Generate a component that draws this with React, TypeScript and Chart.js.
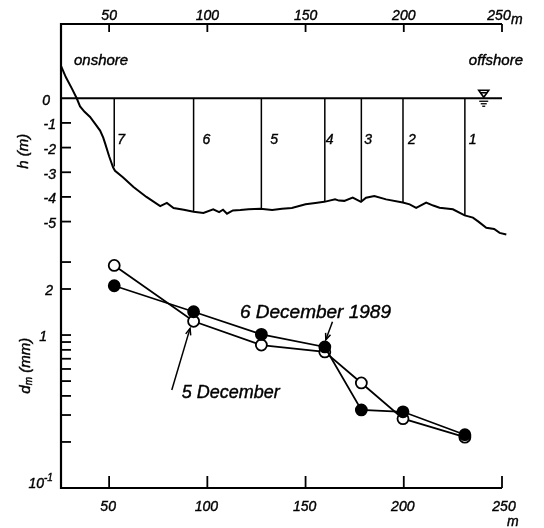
import React, { useEffect, useRef } from "react";
import { Chart, registerables } from "chart.js";

Chart.register(...registerables);

// ---------- axis ranges & ticks ----------
const X_MIN = 25.5;
const X_MAX = 250;
const H_MIN = -15.8;
const H_MAX = 3.01;
const D_MIN = 0.1;
const D_MAX = 108;

const X_TICKS = [50, 100, 150, 200, 250];
const X_TICK_LABELS = ["50", "100", "150", "200", "250"];
const H_TICKS = [0, -1, -2, -3, -4, -5];
const H_TICK_LABELS = ["0", "-1", "-2", "-3", "-4", "-5"];
const D_TICKS = [3, 2, 1, 0.9, 0.8, 0.7, 0.6, 0.5, 0.4, 0.3, 0.2];
const D_LABEL_VALUES = [2, 1];
const D_LABELS = ["2", "1"];

// ---------- stations ----------
const STATION_IDS = ["7", "6", "5", "4", "3", "2", "1"];
const STATION_X = [52.6, 93.0, 127.5, 159.8, 178.4, 199.6, 231.1];
const STATION_BED = [-2.77, -4.6, -4.48, -4.2, -4.2, -4.23, -4.75];

// ---------- mean grain size d_m (mm) ----------
const DM_DEC5 = [2.85, 1.23, 0.86, 0.776, 0.486, 0.284, 0.215];
const DM_DEC6 = [2.1, 1.42, 1.01, 0.836, 0.324, 0.315, 0.223];

// ---------- bottom profile h (m) ----------
const PROFILE_X = [
  25.5, 28, 31, 33.5, 35.2, 37.5, 40.3, 43, 45.4, 47, 48, 50, 52, 53, 57, 62.4,
  69, 76, 79.4, 82.8, 88, 93, 98, 103, 106, 108, 110, 113, 116.8, 121, 127,
  133, 138, 143, 150, 155, 159.5, 165, 167, 169.7, 174, 178.2, 180.8, 185,
  191, 199.5, 203, 206.3, 211.4, 215, 218.2, 225, 231, 235.2, 238, 242, 246,
  248.8, 252.2, 255, 258,
];
const PROFILE_H = [
  1.31, 0.85, 0.4, 0.0, -0.33, -0.55, -0.76, -1.05, -1.31, -1.6, -1.84, -2.35,
  -2.8, -2.94, -3.2, -3.6, -4.0, -4.37, -4.24, -4.45, -4.52, -4.6, -4.65, -4.5,
  -4.62, -4.52, -4.68, -4.55, -4.53, -4.5, -4.48, -4.53, -4.48, -4.45, -4.3,
  -4.25, -4.2, -4.1, -4.15, -4.16, -4.03, -4.2, -4.03, -3.96, -4.1, -4.23,
  -4.3, -4.44, -4.23, -4.35, -4.44, -4.5, -4.75, -4.84, -5.0, -5.25, -5.3,
  -5.46, -5.52, -5.55, -5.69,
];

const FF = "'Liberation Sans', Arial, sans-serif";

function line(ctx: CanvasRenderingContext2D, x1: number, y1: number, x2: number, y2: number) {
  ctx.beginPath();
  ctx.moveTo(x1, y1);
  ctx.lineTo(x2, y2);
  ctx.stroke();
}

function text(ctx: CanvasRenderingContext2D, s: string, x: number, y: number) {
  ctx.fillText(s, x, y);
  const lw = ctx.lineWidth;
  ctx.lineWidth = 0.4;
  ctx.strokeText(s, x, y);
  ctx.lineWidth = lw;
}

function arrow(ctx: CanvasRenderingContext2D, x1: number, y1: number, x2: number, y2: number) {
  line(ctx, x1, y1, x2, y2);
  const a = Math.atan2(y2 - y1, x2 - x1);
  const L = 7;
  const s = 0.38;
  ctx.beginPath();
  ctx.moveTo(x2 - L * Math.cos(a - s), y2 - L * Math.sin(a - s));
  ctx.lineTo(x2, y2);
  ctx.lineTo(x2 - L * Math.cos(a + s), y2 - L * Math.sin(a + s));
  ctx.stroke();
}

const paperAxes = {
  id: "paperAxes",
  afterDraw(chart: any) {
    const ctx: CanvasRenderingContext2D = chart.ctx;
    const { left, right, top, bottom } = chart.chartArea;
    const xs = chart.scales.x;
    const yh = chart.scales.yh;
    const yd = chart.scales.yd;
    ctx.save();
    ctx.strokeStyle = "#000";
    ctx.fillStyle = "#000";
    ctx.lineCap = "butt";

    // frame: top, left, bottom
    ctx.lineWidth = 2.2;
    ctx.beginPath();
    ctx.moveTo(right, top);
    ctx.lineTo(left, top);
    ctx.lineTo(left, bottom);
    ctx.lineTo(right, bottom);
    ctx.stroke();

    // ticks (inward)
    ctx.lineWidth = 1.8;
    X_TICKS.forEach((v) => {
      const px = xs.getPixelForValue(v);
      line(ctx, px, top, px, top + 8);
      line(ctx, px, bottom, px, bottom - 12);
    });
    H_TICKS.forEach((v) => {
      if (v === 0) return;
      const py = yh.getPixelForValue(v);
      line(ctx, left, py, left + 10, py);
    });
    D_TICKS.forEach((v) => {
      const py = yd.getPixelForValue(v);
      line(ctx, left, py, left + 10, py);
    });

    // x labels
    ctx.font = `italic 14px ${FF}`;
    ctx.textAlign = "center";
    ctx.textBaseline = "middle";
    X_TICKS.forEach((v, i) => {
      const px = xs.getPixelForValue(v);
      const last = i === X_TICKS.length - 1;
      text(ctx, X_TICK_LABELS[i], px + (last ? -3 : 0), top - 7.5);
      text(ctx, X_TICK_LABELS[i], px + (last ? 2 : -1), bottom + 19.5);
    });
    ctx.textAlign = "left";
    text(ctx, "m", right + 9, top - 4);
    text(ctx, "m", right + 5, bottom + 34);

    // h labels
    ctx.textAlign = "right";
    H_TICKS.forEach((v, i) => {
      const py = yh.getPixelForValue(v);
      text(ctx, H_TICK_LABELS[i], v === 0 ? left - 11 : left - 5, py + 2.5);
    });
    // d labels
    D_LABEL_VALUES.forEach((v, i) => {
      const py = yd.getPixelForValue(v);
      text(ctx, D_LABELS[i], v === 1 ? left - 14 : left - 8, py + 2);
    });
    const p01 = yd.getPixelForValue(0.1);
    text(ctx, "10", left - 17, p01 - 4);
    ctx.font = `italic 10px ${FF}`;
    ctx.textAlign = "left";
    text(ctx, "-1", left - 17, p01 - 10);

    // axis titles
    ctx.font = `italic 15px ${FF}`;
    ctx.save();
    ctx.translate(24, yh.getPixelForValue(-2.15));
    ctx.rotate(-Math.PI / 2);
    ctx.textAlign = "center";
    text(ctx, "h (m)", 0, 0);
    ctx.restore();

    ctx.save();
    ctx.translate(26, yd.getPixelForValue(0.63));
    ctx.rotate(-Math.PI / 2);
    ctx.textAlign = "left";
    ctx.font = `italic 15px ${FF}`;
    const wd = ctx.measureText("d").width;
    ctx.font = `italic 10px ${FF}`;
    const wm = ctx.measureText("m").width;
    ctx.font = `italic 15px ${FF}`;
    const wr = ctx.measureText(" (mm)").width;
    let sx = -(wd + wm + wr) / 2;
    text(ctx, "d", sx, 0);
    sx += wd;
    ctx.font = `italic 10px ${FF}`;
    text(ctx, "m", sx, 3);
    sx += wm;
    ctx.font = `italic 15px ${FF}`;
    text(ctx, " (mm)", sx, 0);
    ctx.restore();

    // onshore / offshore
    ctx.font = `italic 15px ${FF}`;
    ctx.textAlign = "left";
    text(ctx, "onshore", 74, yh.getPixelForValue(1.5));
    ctx.textAlign = "right";
    text(ctx, "offshore", 523, yh.getPixelForValue(1.5));

    // station numbers
    const offs = [3, 9, 9, 1, 3, 5, 4];
    ctx.font = `italic 14px ${FF}`;
    ctx.textAlign = "left";
    STATION_X.forEach((x, i) => {
      text(ctx, STATION_IDS[i], xs.getPixelForValue(x) + offs[i], yh.getPixelForValue(-1.69));
    });

    // water level symbol
    const wx = xs.getPixelForValue(240.7);
    const wy = yh.getPixelForValue(0);
    ctx.lineWidth = 1.6;
    ctx.beginPath();
    ctx.moveTo(wx - 5, wy - 8);
    ctx.lineTo(wx + 5, wy - 8);
    ctx.lineTo(wx, wy - 1);
    ctx.closePath();
    ctx.stroke();
    line(ctx, wx - 3.5, wy - 5.5, wx + 3.5, wy - 5.5);
    ctx.lineWidth = 1.3;
    line(ctx, wx - 4.5, wy + 3, wx + 4.5, wy + 3);
    line(ctx, wx - 3, wy + 5.5, wx + 3, wy + 5.5);
    line(ctx, wx - 1.5, wy + 8, wx + 1.5, wy + 8);

    // annotations
    ctx.lineWidth = 1.5;
    ctx.textAlign = "left";
    ctx.textBaseline = "alphabetic";
    ctx.font = `italic 19px ${FF}`;
    text(ctx, "6 December 1989", xs.getPixelForValue(116.6), yd.getPixelForValue(1.29));
    arrow(
      ctx,
      xs.getPixelForValue(163.7),
      yd.getPixelForValue(1.22),
      xs.getPixelForValue(160.3),
      yd.getPixelForValue(0.93)
    );
    ctx.font = `italic 18px ${FF}`;
    text(ctx, "5 December", xs.getPixelForValue(87.0), yd.getPixelForValue(0.388));
    arrow(
      ctx,
      xs.getPixelForValue(81.9),
      yd.getPixelForValue(0.437),
      xs.getPixelForValue(91.2),
      yd.getPixelForValue(1.106)
    );
    ctx.restore();
  },
};

export default function App() {
  const ref = useRef<HTMLCanvasElement>(null);

  useEffect(() => {
    const stationSets = STATION_X.map((x, i) => ({
      label: "station " + STATION_IDS[i],
      data: [
        { x, y: 0 },
        { x, y: STATION_BED[i] },
      ],
      xAxisID: "x",
      yAxisID: "yh",
      borderColor: "#000",
      borderWidth: 1.5,
      pointRadius: 0,
      order: 6,
    }));

    const chart = new Chart(ref.current as HTMLCanvasElement, {
      type: "line",
      data: {
        datasets: [
          {
            label: "6 December 1989",
            data: STATION_X.map((x, i) => ({ x, y: DM_DEC6[i] })),
            xAxisID: "x",
            yAxisID: "yd",
            borderColor: "#000",
            borderWidth: 1.8,
            pointRadius: 5.5,
            pointBackgroundColor: "#000",
            pointBorderColor: "#000",
            pointBorderWidth: 1.8,
            order: 0,
          },
          {
            label: "5 December",
            data: STATION_X.map((x, i) => ({ x, y: DM_DEC5[i] })),
            xAxisID: "x",
            yAxisID: "yd",
            borderColor: "#000",
            borderWidth: 1.8,
            pointRadius: 5.5,
            pointBackgroundColor: "#fff",
            pointBorderColor: "#000",
            pointBorderWidth: 1.8,
            order: 1,
          },
          {
            label: "bottom profile",
            data: PROFILE_X.map((x, i) => ({ x, y: PROFILE_H[i] })),
            xAxisID: "x",
            yAxisID: "yh",
            borderColor: "#000",
            borderWidth: 2,
            pointRadius: 0,
            clip: false,
            order: 4,
          },
          {
            label: "water level",
            data: [
              { x: X_MIN, y: 0 },
              { x: X_MAX, y: 0 },
            ],
            xAxisID: "x",
            yAxisID: "yh",
            borderColor: "#000",
            borderWidth: 2,
            pointRadius: 0,
            order: 5,
          },
          ...stationSets,
        ] as any,
      },
      options: {
        animation: false,
        responsive: true,
        maintainAspectRatio: false,
        layout: { padding: { left: 61, top: 24, right: 42, bottom: 40 } },
        plugins: { legend: { display: false }, tooltip: { enabled: false } },
        elements: { line: { tension: 0 } },
        scales: {
          x: { type: "linear", min: X_MIN, max: X_MAX, display: false },
          yh: { type: "linear", min: H_MIN, max: H_MAX, display: false },
          yd: { type: "logarithmic", min: D_MIN, max: D_MAX, display: false },
        },
      },
      plugins: [paperAxes],
    });
    return () => chart.destroy();
  }, []);

  return (
    <div
      style={{
        position: "fixed",
        left: 0,
        top: 0,
        width: 544,
        height: 528,
        background: "#fff",
      }}
    >
      <canvas ref={ref} />
    </div>
  );
}
